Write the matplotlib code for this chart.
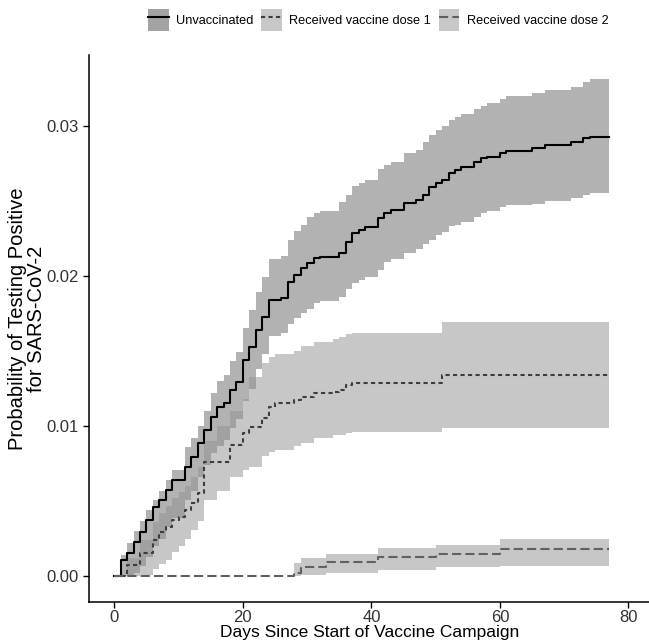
import matplotlib
matplotlib.use('Agg')
import matplotlib.pyplot as plt
from matplotlib.patches import Patch
from matplotlib.lines import Line2D
from matplotlib.ticker import FormatStrFormatter

plt.rcParams['font.family'] = ['Liberation Sans', 'DejaVu Sans']

# Unvaccinated: step days, estimate and 95% band
days_u = [0, 1, 2, 3, 4, 5, 6, 7, 8, 9, 11, 12, 13, 14, 15, 16, 17, 18, 19, 20,
          21, 22, 23, 24, 26, 27, 28, 29, 30, 31, 32, 35, 36, 37, 38, 39, 41, 42,
          43, 45, 47, 48, 49, 50, 51, 52, 53, 54, 56, 57, 58, 60, 61, 65, 67, 71,
          73, 74, 77]
est_u = [0, 0.00107, 0.00153, 0.00229, 0.00295, 0.00373, 0.00462, 0.00507, 0.00573,
         0.0064, 0.00729, 0.00795, 0.00887, 0.00973, 0.01062, 0.01129, 0.01153, 0.0124,
         0.01295, 0.0144, 0.01529, 0.0164, 0.01729, 0.0184, 0.01853, 0.01962, 0.02007,
         0.02053, 0.02087, 0.0212, 0.02129, 0.02153, 0.02229, 0.02287, 0.02307, 0.02329,
         0.02387, 0.0242, 0.0244, 0.02487, 0.02507, 0.0254, 0.02595, 0.0262, 0.0264,
         0.02687, 0.02707, 0.02729, 0.02762, 0.02787, 0.02795, 0.0282, 0.02835, 0.02851,
         0.02873, 0.02895, 0.0292, 0.02929, 0.02929]
upper_u = [0, 0.0014, 0.0022, 0.003, 0.0037, 0.0044, 0.0051, 0.0057, 0.0064, 0.0071,
           0.0086, 0.0092, 0.0100, 0.0110, 0.0122, 0.0130, 0.0134, 0.0143, 0.0149, 0.0165,
           0.0177, 0.0189, 0.0199, 0.0211, 0.0213, 0.0224, 0.0230, 0.0234, 0.0239, 0.0242,
           0.0243, 0.0249, 0.0254, 0.0260, 0.0262, 0.0264, 0.0271, 0.0274, 0.0276, 0.0282,
           0.0284, 0.0289, 0.0294, 0.0297, 0.0300, 0.0304, 0.0306, 0.0308, 0.0311, 0.0313,
           0.0315, 0.0318, 0.0320, 0.0322, 0.0324, 0.0326, 0.0329, 0.0331, 0.0331]
lower_u = [0, 0.0, 0.0, 0.0002, 0.0007, 0.0013, 0.0020, 0.0025, 0.0033, 0.0039,
           0.0051, 0.0057, 0.0066, 0.0074, 0.0082, 0.0087, 0.0091, 0.0099, 0.0105, 0.0117,
           0.0125, 0.0138, 0.0148, 0.0160, 0.0162, 0.0168, 0.0172, 0.0175, 0.0178, 0.0182,
           0.0183, 0.0186, 0.0191, 0.0195, 0.0197, 0.0199, 0.0204, 0.0209, 0.0211, 0.0215,
           0.0218, 0.0221, 0.0224, 0.0227, 0.0229, 0.0233, 0.0234, 0.0236, 0.0239, 0.0242,
           0.0243, 0.0246, 0.0247, 0.0248, 0.0250, 0.0252, 0.0254, 0.0255, 0.0255]

# Received vaccine dose 1
days_d1 = [0, 2, 4, 6, 7, 8, 9, 10, 11, 12, 13, 14, 16, 18, 20, 21, 23, 24, 25, 28,
           29, 31, 34, 35, 36, 37, 51, 77]
est_d1 = [0, 0.00073, 0.00153, 0.0024, 0.00295, 0.00329, 0.00373, 0.00395, 0.0044,
          0.00487, 0.00553, 0.0076, 0.0076, 0.00873, 0.00953, 0.00995, 0.01053, 0.01129,
          0.01153, 0.01173, 0.01195, 0.01218, 0.01229, 0.0124, 0.01273, 0.01287, 0.0134,
          0.0134]
upper_d1 = [0, 0.0012, 0.0024, 0.0036, 0.0042, 0.0047, 0.0052, 0.0056, 0.0060, 0.0066,
            0.0073, 0.0090, 0.0100, 0.0110, 0.0118, 0.0133, 0.0142, 0.0146, 0.0148, 0.0150,
            0.0153, 0.0156, 0.0158, 0.0159, 0.0161, 0.0162, 0.0169, 0.0169]
lower_d1 = [0, 0, 0.0001, 0.0005, 0.0008, 0.0011, 0.0016, 0.0020, 0.0025, 0.0031,
            0.0037, 0.0051, 0.0057, 0.0066, 0.0071, 0.0073, 0.0080, 0.0083, 0.0084, 0.0087,
            0.0089, 0.0092, 0.0094, 0.0094, 0.00953, 0.0096, 0.00987, 0.00987]

# Received vaccine dose 2
days_d2 = [0, 28, 29, 33, 41, 50, 60, 77]
est_d2 = [0, 0.0002, 0.0006, 0.00095, 0.0013, 0.0015, 0.0018, 0.0018]
upper_d2 = [0, 0.0009, 0.0012, 0.0015, 0.0019, 0.0021, 0.0025, 0.0025]
lower_d2 = [0, 0.0, 0.0001, 0.0002, 0.0004, 0.0006, 0.0007, 0.0007]

labels = ['Unvaccinated', 'Received vaccine dose 1', 'Received vaccine dose 2']

fig = plt.figure(figsize=(6.49, 6.44), dpi=100)
ax = fig.add_axes([0.1376, 0.0657, 0.8624, 0.8489])

# bands
ax.fill_between(days_u, lower_u, upper_u, step='post', color='#676767', alpha=0.5, lw=0)
ax.fill_between(days_d1, lower_d1, upper_d1, step='post', color='#919191', alpha=0.5, lw=0)
ax.fill_between(days_d2, lower_d2, upper_d2, step='post', color='#919191', alpha=0.5, lw=0)

# lines
lw = 1.5
ax.step(days_u, est_u, where='post', color='black', lw=lw)
ax.step(days_d1, est_d1, where='post', color='#3d3d3d', lw=lw, dashes=(2.0, 1.6))
ax.step(days_d2, est_d2, where='post', color='#606060', lw=lw, dashes=(4.4, 2.0))

ax.set_xlim(-3.9, 83.2)
ax.set_ylim(-0.00171, 0.03473)
ax.set_xticks([0, 20, 40, 60, 80])
ax.set_yticks([0, 0.01, 0.02, 0.03])
ax.yaxis.set_major_formatter(FormatStrFormatter('%.2f'))
ax.spines['top'].set_visible(False)
ax.spines['right'].set_visible(False)
for s in ['left', 'bottom']:
    ax.spines[s].set_linewidth(1.1)
ax.tick_params(axis='both', labelsize=12, labelcolor='#333333', length=4, width=1.0)
ax.tick_params(axis='x', pad=2)
ax.set_xlabel('Days Since Start of Vaccine Campaign', fontsize=12.5)
ax.xaxis.set_label_coords(0.5, -0.043)
ax.set_ylabel('Probability of Testing Positive\nfor SARS-CoV-2', fontsize=14.5,
              linespacing=0.95)
ax.yaxis.set_label_coords(-0.078, 0.517)

# legend at top
handles = [
    (Patch(facecolor='#a3a3a3', edgecolor='none'), Line2D([], [], color='black', lw=lw)),
    (Patch(facecolor='#c8c8c8', edgecolor='none'), Line2D([], [], color='#3d3d3d', lw=lw, dashes=(2.0, 1.6))),
    (Patch(facecolor='#c8c8c8', edgecolor='none'), Line2D([], [], color='#606060', lw=lw, dashes=(4.4, 2.0))),
]
fig.legend(handles, labels, loc='center', bbox_to_anchor=(0.583, 0.969), ncol=3,
           frameon=False, fontsize=9.2, handlelength=1.6, handleheight=2.2,
           handletextpad=0.6, columnspacing=0.6)

fig.savefig('out.png', dpi=100)
